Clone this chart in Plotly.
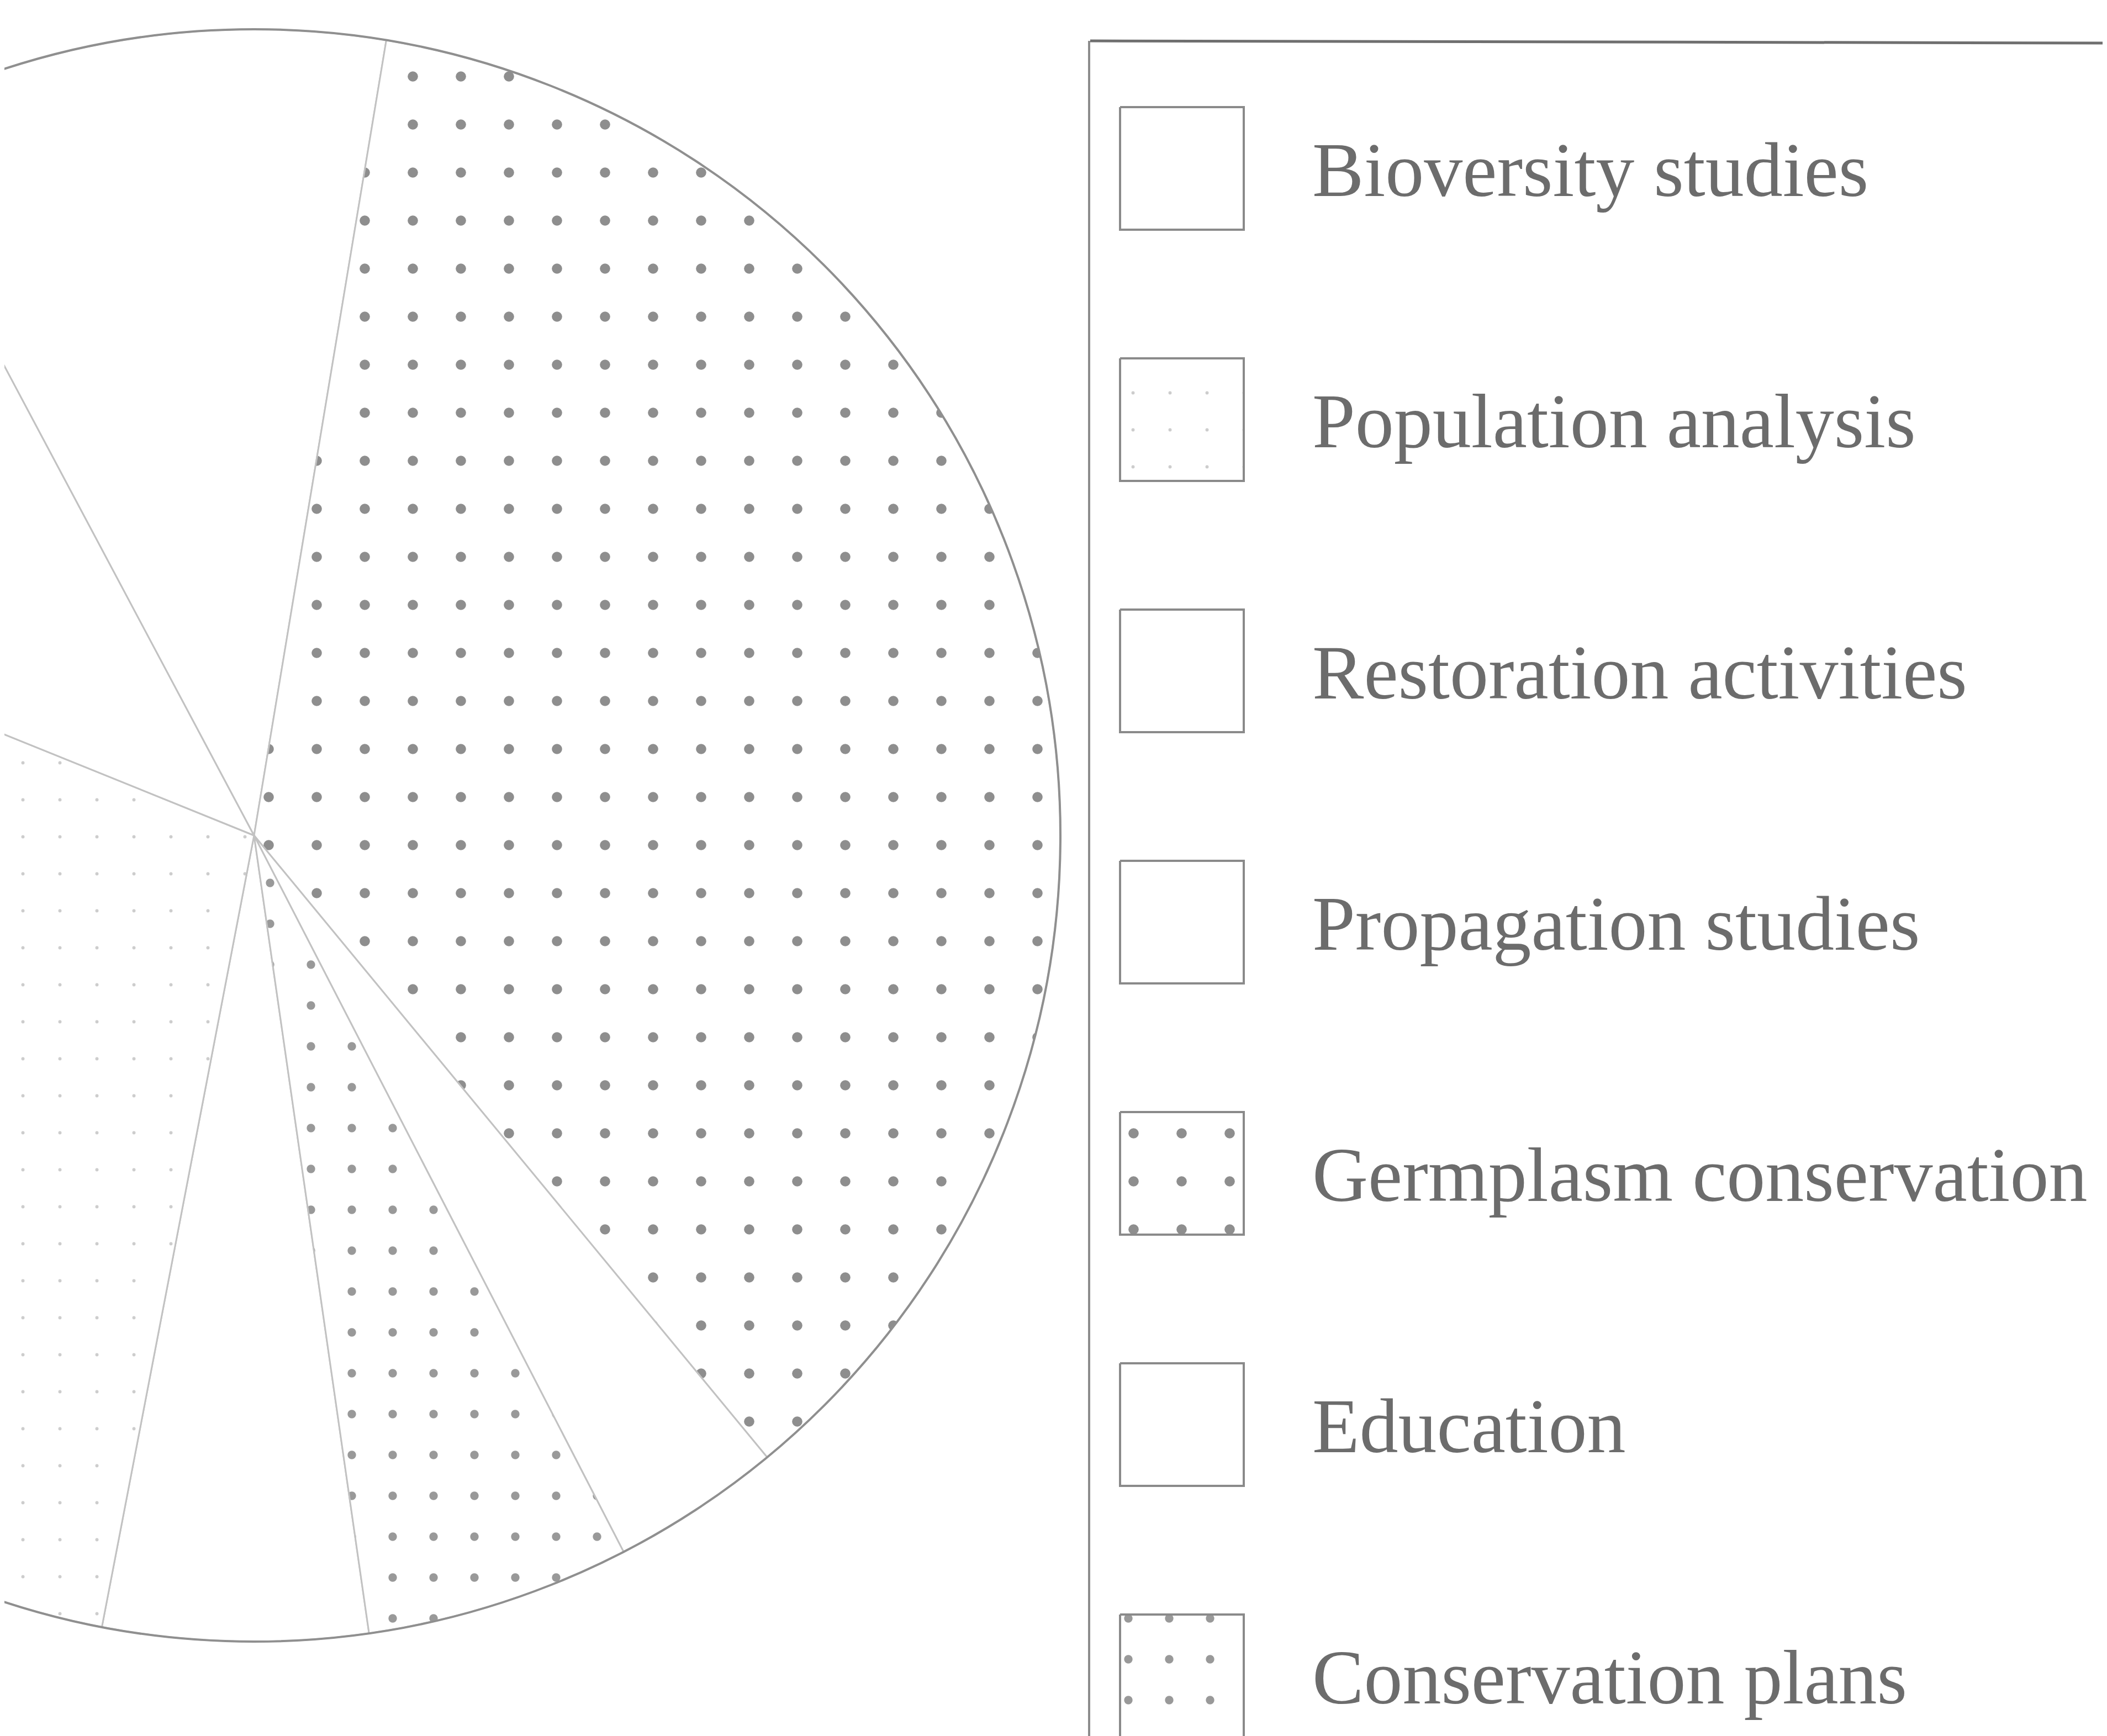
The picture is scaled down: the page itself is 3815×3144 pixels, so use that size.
import math
import plotly.graph_objects as go

# ---------------- data ----------------
categories = ["Bioversity studies", "Population analysis", "Restoration activities",
              "Propagation studies", "Germplasm conservation", "Education",
              "Conservation plans"]
shares = [5.3, 28.1, 11.1, 10.4, 36.4, 3.4, 5.3]   # share of the pie, percent

# ---------------- styles (per category) ----------------
pattern_style = {
    "Bioversity studies":     dict(shape="",  size=10, solidity=0.0,   fgcolor="#9a9a9a"),
    "Population analysis":    dict(shape=".", size=67, solidity=0.006, fgcolor="#cdcdcd"),
    "Restoration activities": dict(shape="",  size=10, solidity=0.0,   fgcolor="#9a9a9a"),
    "Propagation studies":    dict(shape="",  size=10, solidity=0.0,   fgcolor="#9a9a9a"),
    "Germplasm conservation": dict(shape=".", size=87, solidity=0.036, fgcolor="#8e8e8e"),
    "Education":              dict(shape="",  size=10, solidity=0.0,   fgcolor="#9a9a9a"),
    "Conservation plans":     dict(shape=".", size=74, solidity=0.034, fgcolor="#999999"),
}

W, H = 3815, 3144
CX, CY, R = 452, 1505, 1460       # pie centre / radius (page pixels)
START = 171.8                     # first slice starts here, clockwise from 12 o'clock

fig = go.Figure()

# ---------------- pie slices ----------------
total = sum(shares)
angle = START
for cat, v in zip(categories, shares):
    span = 360.0 * v / total
    n = max(3, int(span / 0.4) + 2)
    th = [angle + span * i / (n - 1) for i in range(n)]
    xs = [CX] + [CX + R * math.sin(math.radians(t)) for t in th] + [CX]
    ys = [CY] + [CY - R * math.cos(math.radians(t)) for t in th] + [CY]
    st = pattern_style[cat]
    fig.add_trace(go.Scatter(
        x=xs, y=ys, mode="lines", fill="toself",
        fillcolor="white",
        fillpattern=dict(shape=st["shape"], size=st["size"], solidity=st["solidity"],
                         fgcolor=st["fgcolor"], bgcolor="white", fillmode="replace"),
        line=dict(color="#c2c2c2", width=3),
        name=cat, showlegend=False, hoverinfo="skip"))
    angle += span

# outer rim of the pie
fig.add_shape(type="circle", xref="x", yref="y",
              x0=CX - R, x1=CX + R, y0=CY - R, y1=CY + R,
              line=dict(color="#8f8f8f", width=4), layer="above")

# ---------------- custom legend ----------------
SW_X0, SW_X1 = 2020, 2244
ROW0, ROW_STEP, SW_H = 186, 455, 222
TEXT_X = 2366

for i, cat in enumerate(categories):
    y0 = ROW0 + i * ROW_STEP
    y1 = y0 + SW_H
    st = pattern_style[cat]
    fig.add_trace(go.Scatter(
        x=[SW_X0, SW_X1, SW_X1, SW_X0, SW_X0],
        y=[y0, y0, y1, y1, y0],
        mode="lines", fill="toself", fillcolor="white",
        fillpattern=dict(shape=st["shape"], size=st["size"], solidity=st["solidity"],
                         fgcolor=st["fgcolor"], bgcolor="white", fillmode="replace"),
        line=dict(color="#8a8a8a", width=4),
        showlegend=False, hoverinfo="skip"))
    fig.add_annotation(x=TEXT_X, y=(y0 + y1) / 2 + 2, text=cat, showarrow=False,
                       xanchor="left", yanchor="middle",
                       font=dict(family="Liberation Serif", size=140, color="#6c6c6c"))

# legend frame
fig.add_shape(type="line", x0=1966, x1=3815, y0=66, y1=70,
              line=dict(color="#6f6f6f", width=5))
fig.add_shape(type="line", x0=1964, x1=1964, y0=66, y1=3144,
              line=dict(color="#8c8c8c", width=4))
fig.add_shape(type="line", x0=3806, x1=3806, y0=70, y1=3144,
              line=dict(color="#d6d6d6", width=4))

fig.update_xaxes(range=[0, W], visible=False, showgrid=False, zeroline=False)
fig.update_yaxes(range=[H, 0], visible=False, showgrid=False, zeroline=False)
fig.update_layout(width=W, height=H, margin=dict(l=0, r=0, t=0, b=0),
                  paper_bgcolor="white", plot_bgcolor="white", showlegend=False)

fig.write_html("out.html")
